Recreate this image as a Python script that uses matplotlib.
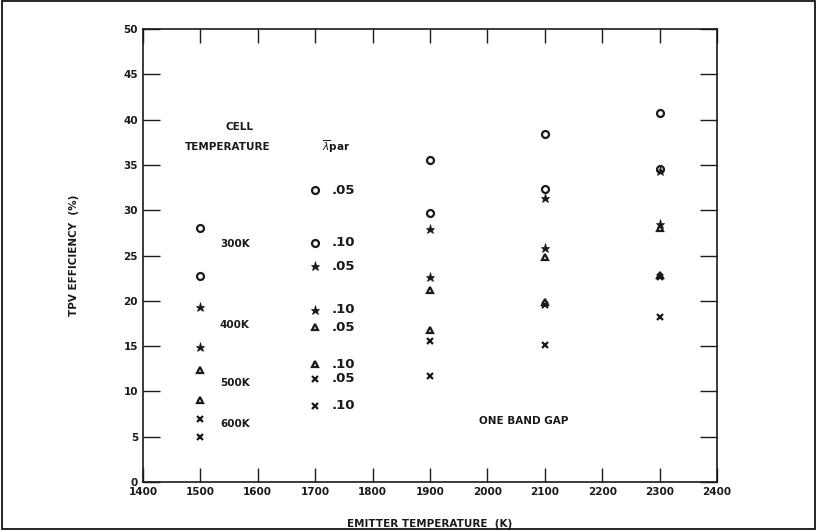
import matplotlib
matplotlib.use("Agg")
import matplotlib.pyplot as plt
from matplotlib.patches import Rectangle

# ---- data ----
emitter_temps = [1500, 1700, 1900, 2100, 2300]
eff_300K = [28.0, 32.2, 35.5, 38.4, 40.7]   # circle, lambda .05
eff_300K_b = [22.7, 26.4, 29.7, 32.3, 34.6] # circle, lambda .10
eff_400K = [19.3, 23.8, 27.9, 31.3, 34.3]   # star, .05
eff_400K_b = [14.9, 19.0, 22.6, 25.8, 28.5] # star, .10
eff_500K = [12.4, 17.1, 21.2, 24.8, 28.0]   # triangle, .05
eff_500K_b = [9.1, 13.0, 16.8, 19.9, 22.9]  # triangle, .10
eff_600K = [7.0, 11.4, 15.6, 19.5, 22.6]    # x, .05
eff_600K_b = [5.0, 8.4, 11.7, 15.1, 18.2]   # x, .10
lambda_labels = [".05", ".10", ".05", ".10", ".05", ".10", ".05", ".10"]
cell_temp_labels = ["300K", "400K", "500K", "600K"]
x_ticks = list(range(1400, 2401, 100))
y_ticks = list(range(0, 51, 5))

plt.rcParams['font.family'] = ['DejaVu Sans']
fig = plt.figure(figsize=(8.17, 5.30), dpi=100)
ax = fig.add_axes([0.175, 0.0906, 0.7026, 0.8546])

series = [
    (eff_300K, 'o'), (eff_300K_b, 'o'),
    (eff_400K, '*'), (eff_400K_b, '*'),
    (eff_500K, '^'), (eff_500K_b, '^'),
    (eff_600K, 'x'), (eff_600K_b, 'x'),
]
col = '#1a1a1a'
for (vals, m), lab in zip(series, lambda_labels):
    if m in ('o', '^'):
        ax.plot(emitter_temps, vals, linestyle='none', marker=m, markersize=5,
                markerfacecolor='none', markeredgecolor=col, markeredgewidth=1.6)
    elif m == '*':
        ax.plot(emitter_temps, vals, linestyle='none', marker=m, markersize=6.5,
                color=col, markeredgewidth=0.5)
    else:
        ax.plot(emitter_temps, vals, linestyle='none', marker=m, markersize=5,
                color=col, markeredgewidth=1.6)
    ax.text(emitter_temps[1] + 28, vals[1], lab, fontsize=9.5, fontweight='bold',
            color=col, va='center', ha='left')

fs = 7.5
# cell temperature labels (positions in data units)
for lab, ypos in zip(cell_temp_labels, [26.3, 17.3, 10.9, 6.4]):
    ax.text(1534, ypos, lab, fontsize=fs, fontweight='bold', color=col,
            va='center', ha='left')

ax.text(1569, 39.2, "CELL", fontsize=fs, fontweight='bold', color=col, ha='center', va='center')
ax.text(1548, 37.0, "TEMPERATURE", fontsize=fs, fontweight='bold', color=col, ha='center', va='center')
ax.text(1736, 37.0, r"$\overline{\lambda}$par", fontsize=fs, fontweight='bold', color=col,
        ha='center', va='center')
ax.text(2064, 6.7, "ONE BAND GAP", fontsize=fs, fontweight='bold', color=col, ha='center', va='center')

ax.set_xlim(1400, 2400)
ax.set_ylim(0, 50)
ax.set_xticks(x_ticks)
ax.set_yticks(y_ticks)
ax.tick_params(direction='in', width=1.0, top=True, right=True,
               labelsize=fs, colors=col)
ax.tick_params(axis='x', length=10)
ax.tick_params(axis='y', length=12)
for lbl in ax.get_xticklabels() + ax.get_yticklabels():
    lbl.set_fontweight('bold')
for s in ax.spines.values():
    s.set_linewidth(1.2)
    s.set_color(col)

ax.set_xlabel("EMITTER TEMPERATURE  (K)", fontsize=fs, fontweight='bold', color=col, labelpad=16)
ax.set_ylabel("TPV EFFICIENCY  (%)", fontsize=fs, fontweight='bold', color=col, labelpad=32)

fig.patches.append(Rectangle((0.002, 0.002), 0.996, 0.996, transform=fig.transFigure,
                             fill=False, edgecolor='black', linewidth=1.2))

fig.savefig("out.png", dpi=100)
